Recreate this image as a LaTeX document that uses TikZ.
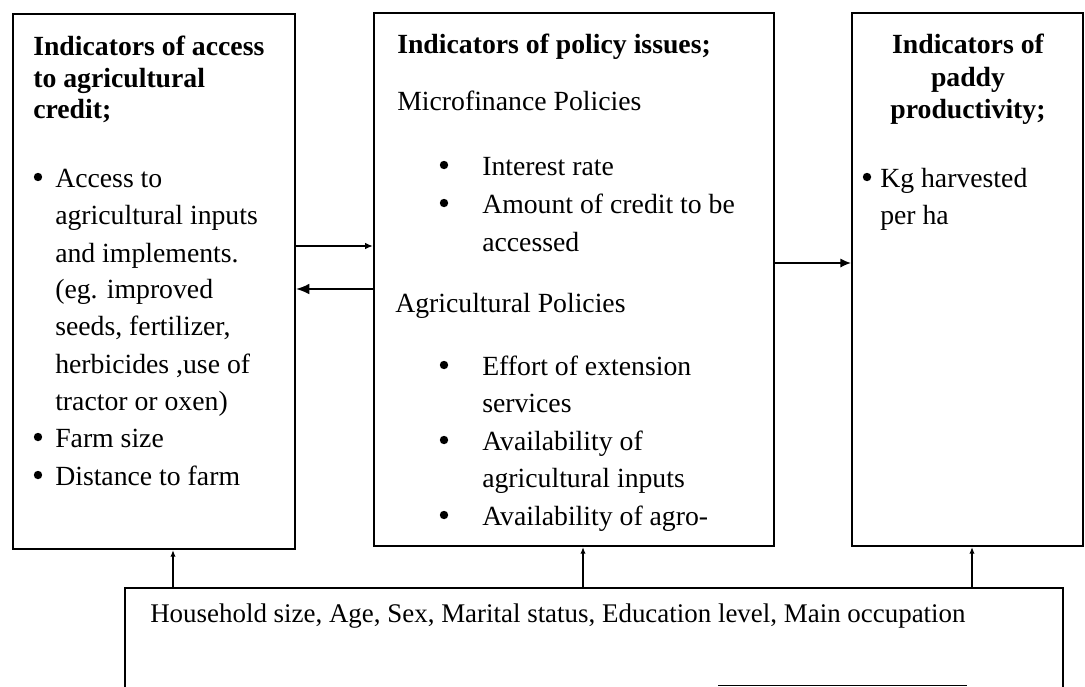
\documentclass[tikz,border=0pt]{standalone}
\usepackage{fontspec}
\setmainfont{Liberation Serif}
\usetikzlibrary{arrows.meta}
\newcommand\tln[4]{\node[txt,anchor=base west] (#1) at (#2,#3) {#4};}
\newcommand\hln[4]{\node[txt,anchor=base west] (#1) at (#2,#3) {\bfseries #4};}
\newcommand\bul[3]{\node[dot] (#1) at (#2,#3-10) {};}
\begin{document}
\begin{tikzpicture}[x=0.75pt,y=-0.75pt,
  box/.style={draw,line width=1.5pt,inner sep=0pt},
  txt/.style={inner sep=0pt,font=\fontsize{20.8}{25}\selectfont},
  dot/.style={circle,fill,inner sep=0pt,minimum size=6.3pt},
  arr/.style={line width=1.2pt}]
\useasboundingbox (0,0) rectangle (1085,686);
% boxes
\node[box,minimum width=211.5pt,minimum height=401.25pt] (L) at (154,281.5) {};
\node[box,minimum width=300pt,minimum height=399.75pt] (M) at (574,279.5) {};
\node[box,minimum width=173.25pt,minimum height=399.75pt] (R) at (967.5,279.5) {};
\node[box,minimum width=703.5pt,minimum height=99pt] (B) at (594,654) {};
\draw[line width=0.8pt] (718,685.3) -- (967,685.3);
% left box text
\hln{l1}{33}{55}{Indicators of access}
\hln{l2}{33}{87}{to agricultural}
\hln{l3}{33}{118}{credit;}
\bul{lb1}{38}{187}
\tln{la1}{55}{187}{Access to}
\tln{la2}{55}{224}{agricultural inputs}
\tln{la3}{55}{262}{and implements.}
\tln{la4}{55}{298}{(eg. improved}
\tln{la5}{55}{335}{seeds, fertilizer,}
\tln{la6}{55}{373}{herbicides ,use of}
\tln{la7}{55}{410}{tractor or oxen)}
\bul{lb2}{38}{447}
\tln{la8}{55}{447}{Farm size}
\bul{lb3}{38}{485}
\tln{la9}{55}{485}{Distance to farm}
% middle box text
\hln{m1}{397}{53}{Indicators of policy issues;}
\tln{m2}{397}{110}{Microfinance Policies}
\bul{mb1}{444}{175}
\tln{m3}{482}{175}{Interest rate}
\bul{mb2}{444}{213}
\tln{m4}{482}{213}{Amount of credit to be}
\tln{m5}{482}{251}{accessed}
\tln{m6}{395}{312}{Agricultural Policies}
\bul{mb3}{444}{375}
\tln{m7}{482}{375}{Effort of extension}
\tln{m8}{482}{412}{services}
\bul{mb4}{444}{450}
\tln{m9}{482}{450}{Availability of}
\tln{m10}{482}{487}{agricultural inputs}
\bul{mb5}{444}{525}
\tln{m11}{482}{525}{Availability of agro-}
% right box text
\node[txt,anchor=base] (r1) at (968,53) {\bfseries Indicators of};
\node[txt,anchor=base] (r2) at (968,86) {\bfseries paddy};
\node[txt,anchor=base] (r3) at (968,118) {\bfseries productivity;};
\bul{rb1}{867}{187}
\tln{r4}{880}{187}{Kg harvested}
\tln{r5}{880}{224}{per ha}
% bottom text
\node[inner sep=0pt,anchor=base west,font=\fontsize{20.2}{24}\selectfont] (b1) at (150,622) {Household size, Age, Sex, Marital status, Education level, Main occupation};
% connectors
\coordinate (y1) at (0,246);
\coordinate (y2) at (0,289);
\coordinate (y3) at (0,263);
\coordinate (x1) at (173,0);
\coordinate (x2) at (583,0);
\coordinate (x3) at (972,0);
\draw[arr,-{Latex[length=6pt,width=5pt]}] (L.east |- y1) -- (M.west |- y1);
\draw[arr,-{Latex[length=10pt,width=8pt]}] (M.west |- y2) -- (L.east |- y2);
\draw[arr,-{Latex[length=8pt,width=7pt]}] (M.east |- y3) -- (R.west |- y3);
\draw[arr,-{Latex[length=5pt,width=4pt]}] (x1 |- B.north) -- (x1 |- L.south);
\draw[arr,-{Latex[length=5pt,width=4pt]}] (x2 |- B.north) -- (x2 |- M.south);
\draw[arr,-{Latex[length=5pt,width=4pt]}] (x3 |- B.north) -- (x3 |- R.south);
\end{tikzpicture}
\end{document}
